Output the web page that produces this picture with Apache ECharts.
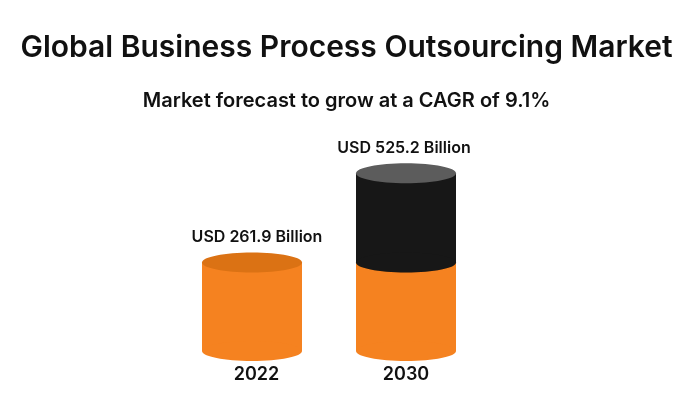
<!DOCTYPE html>
<html>
<head>
<meta charset="utf-8">
<script src="https://cdn.jsdelivr.net/npm/echarts@6/dist/echarts.min.js"></script>
<style>
  html, body { margin: 0; padding: 0; background: #fff; }
  #chart { width: 693px; height: 414px; }
</style>
</head>
<body>
<div id="chart"></div>
<script>
// market size, USD billion
const categories = ['2022', '2030'];
const baseValues = [261.9, 261.9];     // orange segment
const growthValues = [0, 263.3];       // black segment on top (525.2 - 261.9)
const totalLabels = ['USD 261.9 Billion', 'USD 525.2 Billion'];

const ORANGE = '#F58220';
const ORANGE_TOP = '#DB7214';
const BLACK = '#171717';
const BLACK_TOP = '#5C5C5C';

const chart = echarts.init(document.getElementById('chart'));

const data = categories.map((c, i) => [i, baseValues[i], growthValues[i]]);

const renderCylinder = (params, api) => {
    const idx = api.value(0);
    const base = api.value(1);
    const growth = api.value(2);
    const p0 = api.coord([idx, 0]);
    const p1 = api.coord([idx, base]);
    const p2 = api.coord([idx, base + growth]);
    const rx = 50, ry = 10;
    const cx = p0[0];
    const children = [
        {type: 'rect', shape: {x: cx - rx, y: p1[1], width: rx * 2, height: p0[1] - p1[1]}, style: {fill: ORANGE}},
        {type: 'ellipse', shape: {cx, cy: p0[1], rx, ry}, style: {fill: ORANGE}},
        {type: 'ellipse', shape: {cx, cy: p1[1], rx, ry}, style: {fill: ORANGE_TOP}}
    ];
    if (growth > 0) {
        children.push(
            {type: 'rect', shape: {x: cx - rx, y: p2[1], width: rx * 2, height: p1[1] - p2[1]}, style: {fill: BLACK}},
            {type: 'ellipse', shape: {cx, cy: p1[1], rx, ry}, style: {fill: BLACK}},
            {type: 'ellipse', shape: {cx, cy: p2[1], rx, ry}, style: {fill: BLACK_TOP}}
        );
    }
    children.push({
        type: 'text',
        style: {
            text: totalLabels[idx],
            x: cx + (idx === 0 ? 5 : -2),
            y: p2[1] - 25,
            align: 'center',
            verticalAlign: 'middle',
            fontFamily: 'Inter',
            fontWeight: 600,
            fontSize: 16,
            fill: '#111'
        }
    });
    return {type: 'group', children};
};

chart.setOption({
    backgroundColor: '#fff',
    animation: false,
    title: [{
        text: 'Global Business Process Outsourcing Market',
        left: 'center',
        top: 28,
        textStyle: {fontFamily: 'Inter', fontWeight: 600, fontSize: 30, color: '#111'}
    }, {
        text: 'Market forecast to grow at a CAGR of 9.1%',
        left: 'center',
        top: 86,
        textStyle: {fontFamily: 'Inter', fontWeight: 600, fontSize: 20, color: '#111'}
    }],
    grid: {left: 175, right: 210, top: 148, bottom: 63},
    xAxis: {
        type: 'category',
        data: categories,
        axisLine: {show: false},
        axisTick: {show: false},
        axisLabel: {
            margin: 15,
            fontFamily: 'Inter',
            fontWeight: 600,
            fontSize: 18,
            color: '#111',
            formatter: (v) => v === '2022' ? '  ' + v : v
        }
    },
    yAxis: {type: 'value', min: 0, max: 600, show: false, splitLine: {show: false}},
    series: [{
        type: 'custom',
        renderItem: renderCylinder,
        encode: {x: 0, y: [1, 2]},
        data
    }]
});
</script>
</body>
</html>
